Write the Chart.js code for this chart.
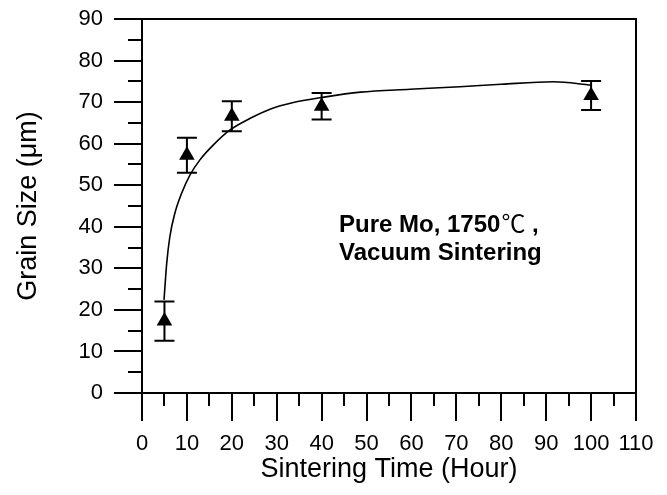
<!DOCTYPE html>
<html>
<head>
<meta charset="utf-8">
<script src="https://cdn.jsdelivr.net/npm/chart.js@4/dist/chart.umd.min.js"></script>
<style>
  body { margin: 0; background: #fff; }
  #wrap { width: 667px; height: 495px; position: relative; }
</style>
</head>
<body>
<div id="wrap"><canvas id="grainChart"></canvas></div>
<script>
// measured grain size vs sintering time
const hours = [5, 10, 20, 40, 100];
const grainSize = [17.3, 57.2, 66.6, 69.0, 71.6];
const grainErr = [4.7, 4.2, 3.6, 3.2, 3.5];

// fitted trend line
const fitHours = [4.9, 5.5, 6.2, 7.3, 8.8, 10.7, 12.9, 15.9, 19.6, 24.1, 28.5, 33.7, 40, 48.6, 59.7, 70.8, 80, 91.6, 100];
const fitSize = [22.4, 31.2, 37.6, 43.2, 48.0, 52.5, 56.1, 59.7, 63.3, 66.1, 68.3, 69.9, 71.1, 72.4, 73.1, 73.7, 74.3, 74.9, 74.1];

// note text, first line split so the degree sign can use a lighter face
const noteTemp = ['Pure Mo, 1750', '\u2103', ' ,'];
const noteMethod = 'Vacuum Sintering';

const FONT = '"Liberation Sans", Arial, sans-serif';

// box frame + outward major/minor ticks
const frameTicks = {
    id: 'frameTicks',
    afterDraw(chart) {
        const ctx = chart.ctx;
        const a = chart.chartArea;
        const xs = chart.scales.x, ys = chart.scales.y;
        ctx.save();
        ctx.strokeStyle = '#000';
        ctx.lineWidth = 2;
        ctx.strokeRect(a.left, a.top, a.right - a.left, a.bottom - a.top);
        ctx.beginPath();
        for (let v = 0; v <= 110; v += 5) {
            let px = Math.round(xs.getPixelForValue(v));
            let len = v % 10 === 0 ? 28 : 13;
            ctx.moveTo(px, a.bottom);
            ctx.lineTo(px, a.bottom + len);
        }
        for (let v = 0; v <= 90; v += 5) {
            let py = Math.round(ys.getPixelForValue(v));
            let len = v % 10 === 0 ? 28 : 14;
            ctx.moveTo(a.left, py);
            ctx.lineTo(a.left - len, py);
        }
        ctx.stroke();

        // note text
        ctx.fillStyle = '#000';
        ctx.textBaseline = 'alphabetic';
        let x = 339;
        ctx.font = 'bold 24px ' + FONT;
        ctx.fillText(noteTemp[0], x, 232);
        x += ctx.measureText(noteTemp[0]).width + 1;
        ctx.font = '24px "Noto Sans CJK SC", "DejaVu Sans", sans-serif';
        ctx.fillText(noteTemp[1], x, 232);
        x += ctx.measureText(noteTemp[1]).width;
        ctx.font = 'bold 24px ' + FONT;
        ctx.fillText(noteTemp[2], x, 232);
        ctx.fillText(noteMethod, 339, 260);
        ctx.restore();
    }
};

// error bars on the measured points
const errorBars = {
    id: 'errorBars',
    afterDatasetsDraw(chart) {
        const ctx = chart.ctx;
        const xs = chart.scales.x, ys = chart.scales.y;
        ctx.save();
        ctx.strokeStyle = '#000';
        ctx.lineWidth = 2;
        ctx.beginPath();
        for (let i = 0; i < hours.length; i++) {
            let px = xs.getPixelForValue(hours[i]);
            let top = ys.getPixelForValue(grainSize[i] + grainErr[i]);
            let bot = ys.getPixelForValue(grainSize[i] - grainErr[i]);
            ctx.moveTo(px, top);
            ctx.lineTo(px, bot);
            ctx.moveTo(px - 10, top);
            ctx.lineTo(px + 10, top);
            ctx.moveTo(px - 10, bot);
            ctx.lineTo(px + 10, bot);
        }
        ctx.stroke();
        ctx.restore();
    }
};

// no label overhang, the box is placed by layout padding alone
function noOverhang(scale) {
    scale.paddingTop = 0;
    scale.paddingBottom = 0;
    scale.paddingLeft = 0;
    scale.paddingRight = 0;
}

new Chart(document.getElementById('grainChart'), {
    type: 'scatter',
    data: {
        datasets: [
            {
                label: 'fit',
                data: fitHours.map((h, i) => ({x: h, y: fitSize[i]})),
                showLine: true,
                borderColor: '#000',
                borderWidth: 1.6,
                pointRadius: 0,
                cubicInterpolationMode: 'monotone',
                fill: false
            },
            {
                label: 'measured',
                data: hours.map((h, i) => ({x: h, y: grainSize[i]})),
                pointStyle: 'triangle',
                pointRadius: 9,
                backgroundColor: '#000',
                borderColor: '#000',
                borderWidth: 0
            }
        ]
    },
    options: {
        responsive: true,
        maintainAspectRatio: false,
        animation: false,
        layout: { padding: { top: 19, right: 31, left: 0, bottom: 0 } },
        plugins: { legend: { display: false }, tooltip: { enabled: false } },
        scales: {
            x: {
                type: 'linear',
                min: 0,
                max: 110,
                grid: { display: false, drawTicks: false },
                border: { display: false },
                ticks: { stepSize: 10, color: '#000', padding: 38, maxRotation: 0, font: { family: FONT, size: 22 } },
                title: { display: true, text: 'Sintering Time (Hour)', color: '#000', padding: { top: 0, bottom: 9 }, font: { family: FONT, size: 27 } },
                afterFit(scale) { scale.height = 102; noOverhang(scale); }
            },
            y: {
                min: 0,
                max: 90,
                grid: { display: false, drawTicks: false },
                border: { display: false },
                ticks: { stepSize: 10, color: '#000', padding: 39, font: { family: FONT, size: 22 } },
                title: { display: true, text: 'Grain Size (\u03bcm)', color: '#000', padding: { top: 12, bottom: 0 }, font: { family: FONT, size: 27 } },
                afterFit(scale) { scale.width = 142; noOverhang(scale); }
            }
        }
    },
    plugins: [frameTicks, errorBars]
});
</script>
</body>
</html>
